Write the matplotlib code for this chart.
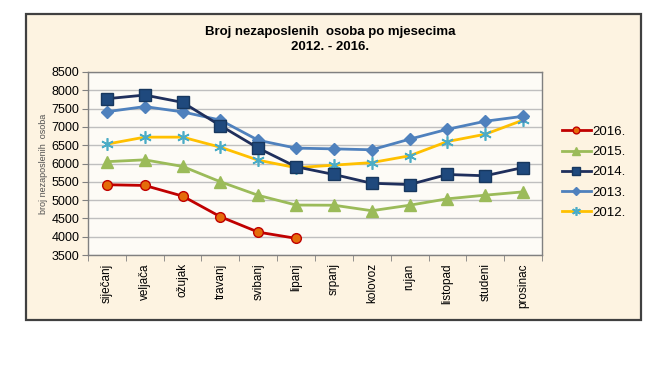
import numpy as np
import matplotlib
matplotlib.use("Agg")
import matplotlib.pyplot as plt
from matplotlib.patches import Rectangle

plt.rcParams['font.family'] = ['Liberation Sans', 'DejaVu Sans']

months = ['siječanj', 'veljača', 'ožujak', 'travanj', 'svibanj', 'lipanj',
          'srpanj', 'kolovoz', 'rujan', 'listopad', 'studeni', 'prosinac']

y2016 = [5420, 5400, 5110, 4545, 4125, 3955]
y2015 = [6050, 6100, 5920, 5500, 5130, 4865, 4860, 4710, 4860, 5035, 5135, 5225]
y2014 = [7770, 7870, 7670, 7035, 6420, 5910, 5700, 5460, 5425, 5700, 5665, 5890]
y2013 = [7415, 7555, 7410, 7185, 6635, 6420, 6400, 6375, 6665, 6935, 7155, 7290]
y2012 = [6530, 6720, 6720, 6445, 6090, 5885, 5955, 6025, 6210, 6600, 6800, 7185]

fig = plt.figure(figsize=(6.46, 3.70), dpi=100)
fig.patch.set_facecolor('white')

# outer chart frame
frame = Rectangle((26 / 646, 1 - 320 / 370), (641 - 26) / 646, (320 - 14) / 370,
                  transform=fig.transFigure, facecolor='#FDF3E1',
                  edgecolor='#404040', linewidth=1.6, zorder=-10)
fig.patches.append(frame)

ax = fig.add_axes([88 / 646, 1 - 255 / 370, (542 - 88) / 646, (255 - 72) / 370])
ax.set_facecolor('#FDFBF6')

x = np.arange(len(months))

ax.plot(x[:len(y2016)], y2016, color='#C00000', lw=2, marker='o', ms=7,
        mfc='#E46C0A', mec='#C00000', mew=1, label='2016.', zorder=5)
ax.plot(x, y2015, color='#9BBB59', lw=2, marker='^', ms=8,
        mfc='#9BBB59', mec='#9BBB59', label='2015.', zorder=4)
ax.plot(x, y2014, color='#1F2F5C', lw=2, marker='s', ms=8,
        mfc='#1F497D', mec='#17375E', mew=1, label='2014.', zorder=3)
ax.plot(x, y2013, color='#4F81BD', lw=2, marker='D', ms=6,
        mfc='#4F81BD', mec='#4F81BD', label='2013.', zorder=2)
ax.plot(x, y2012, color='#FFC000', lw=2, marker=(6, 2, 0), ms=9,
        mec='#4BACC6', mew=1.2, label='2012.', zorder=1)

ax.set_xlim(-0.5, len(months) - 0.5)
ax.set_ylim(3500, 8500)
ax.set_yticks(np.arange(3500, 8501, 500))
ax.yaxis.grid(True, color='#BFBFBF', lw=1)
ax.set_axisbelow(True)

ax.set_xticks(x)
ax.set_xticklabels(months, rotation=90, fontsize=8.5)
ax.set_xticks(np.arange(-0.5, len(months), 1), minor=True)
ax.tick_params(axis='x', which='major', length=0, pad=6)
ax.tick_params(axis='x', which='minor', length=4, color='#808080')
ax.tick_params(axis='y', length=4, color='#808080', labelsize=9, pad=2)

for s in ax.spines.values():
    s.set_color('#808080')
    s.set_linewidth(1)

ax.set_ylabel('broj nezaposlenih  osoba', fontsize=6.5, color='#505050', labelpad=3)

fig.text(330 / 646, 1 - 32 / 370, 'Broj nezaposlenih  osoba po mjesecima',
         ha='center', va='center', fontsize=9.5, fontweight='bold')
fig.text(330 / 646, 1 - 47 / 370, '2012. - 2016.',
         ha='center', va='center', fontsize=9.5, fontweight='bold')

leg = fig.legend(loc='upper left', bbox_to_anchor=(550 / 646, 1 - 114 / 370),
                 frameon=False, fontsize=9.5, handlelength=2.2, handletextpad=0.1,
                 labelspacing=0.6, markerscale=0.7)

fig.savefig('out.png', dpi=100, facecolor=fig.get_facecolor())
